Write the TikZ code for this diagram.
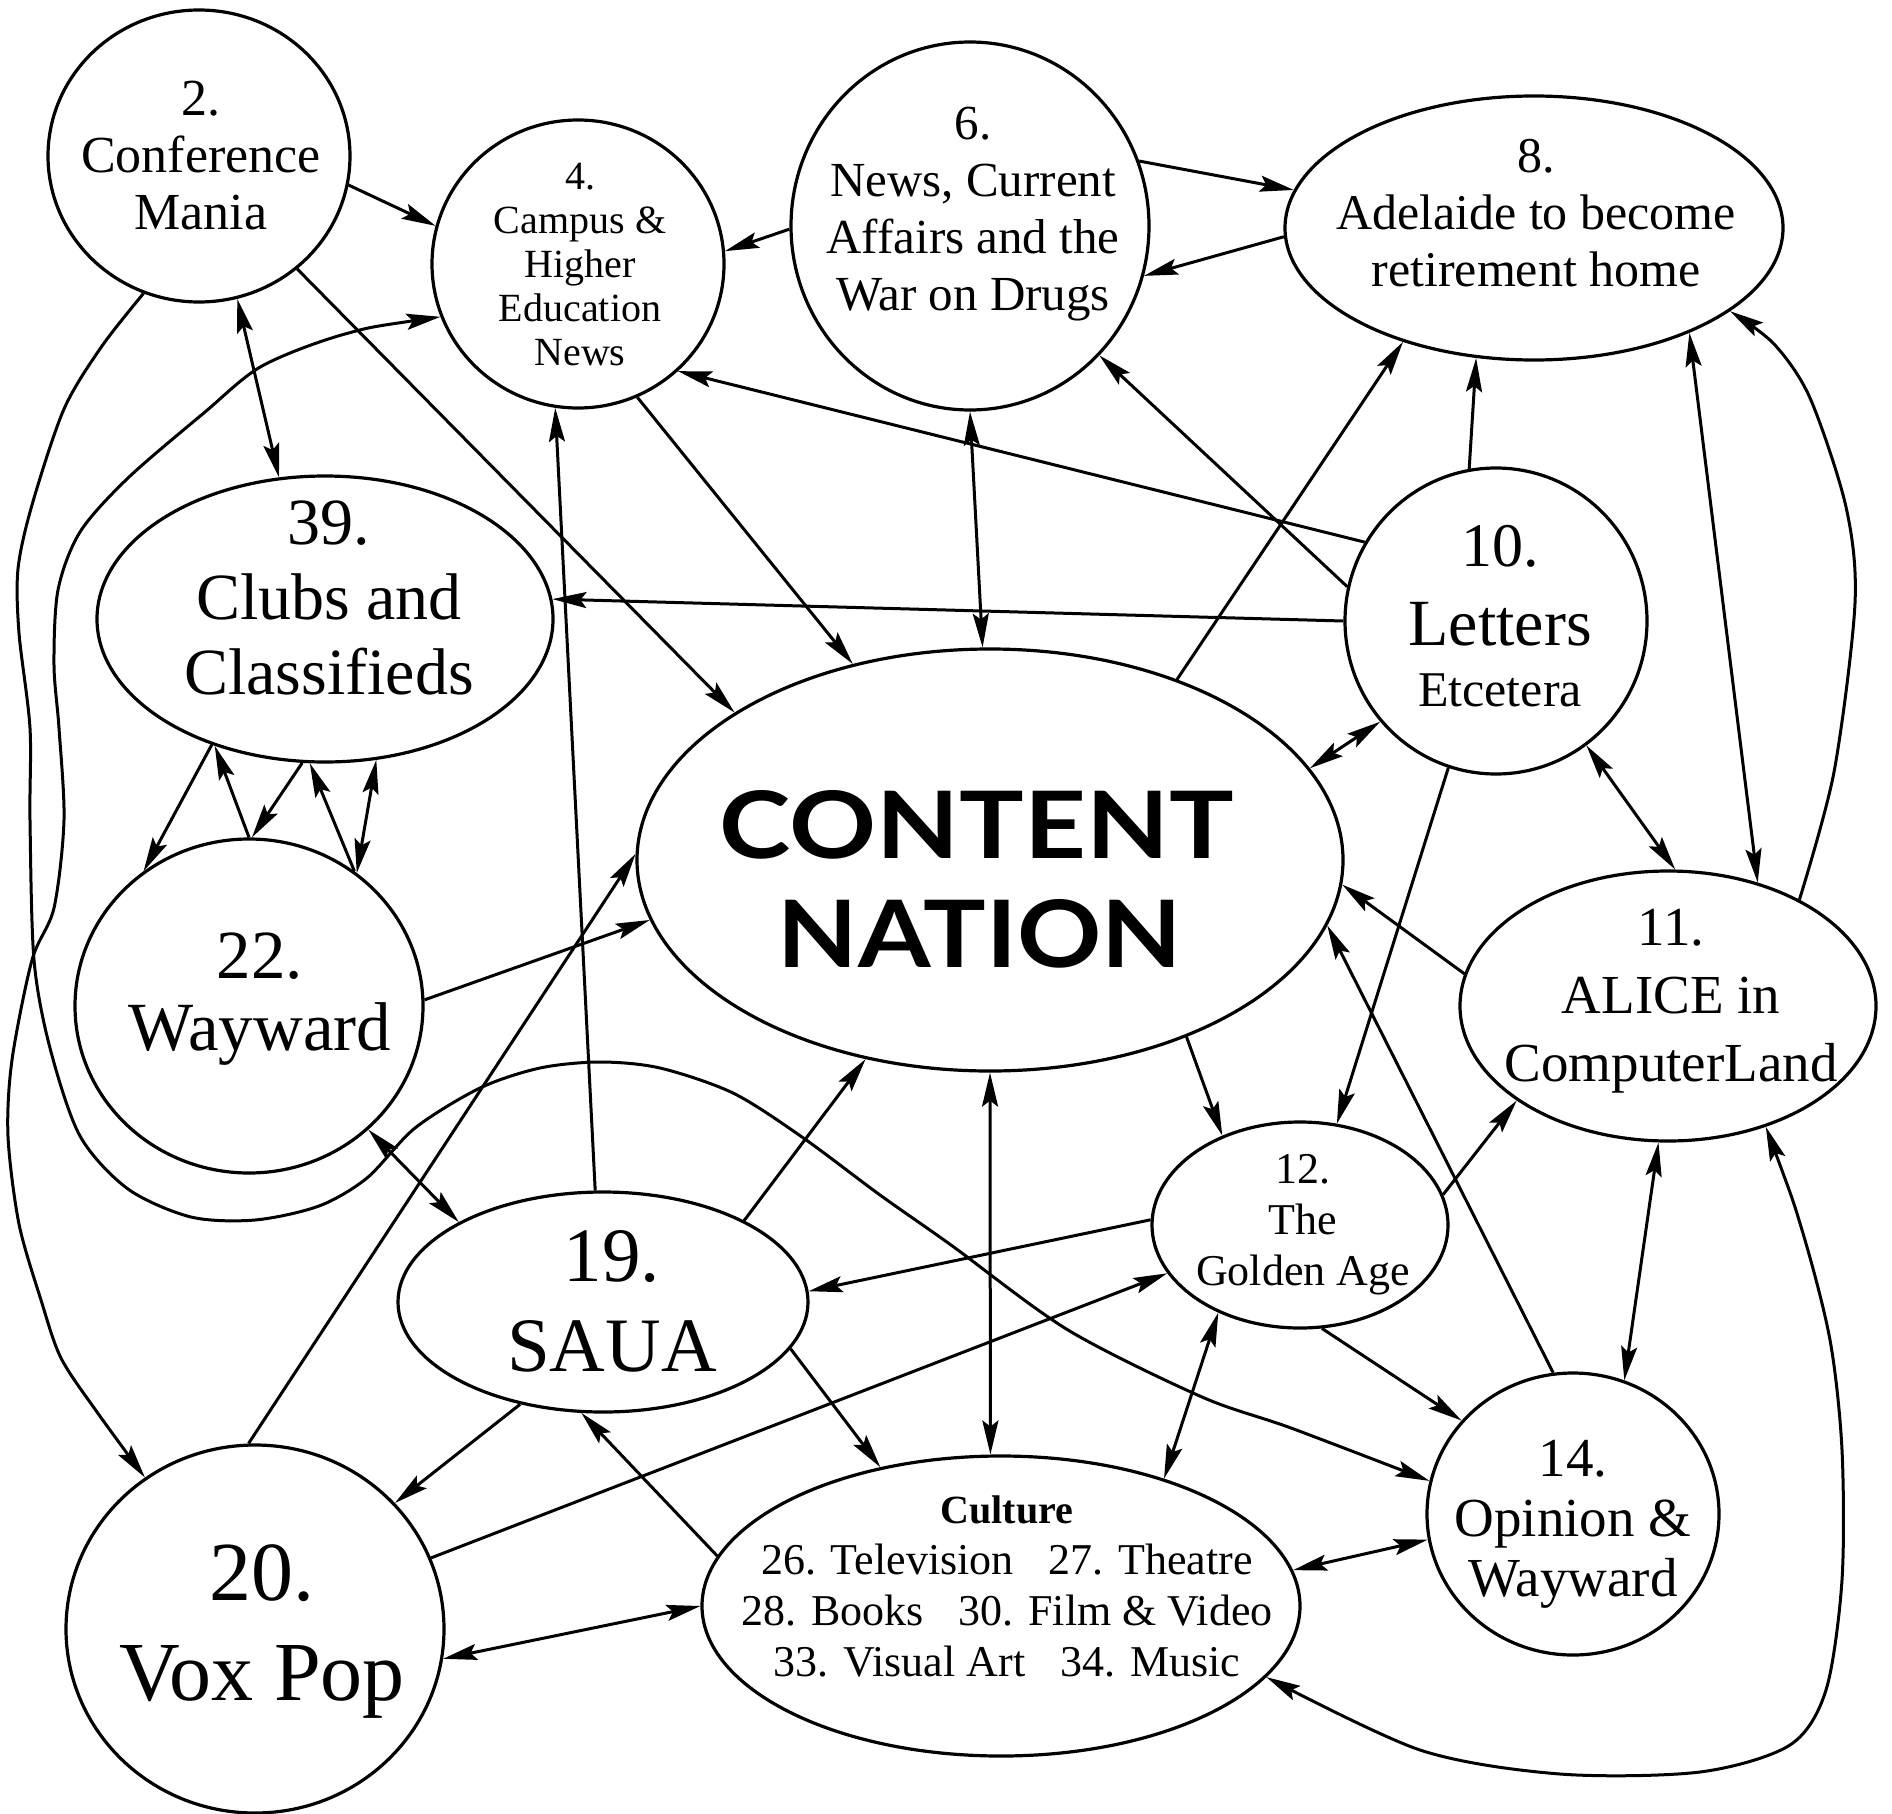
\documentclass[tikz,border=0pt]{standalone}
\usepackage{fontspec}
\usepackage{graphicx}
\setmainfont{Liberation Serif}
\newfontfamily\cnfont{Lato}
\usetikzlibrary{shapes.geometric,arrows.meta}
\newcommand{\myfs}[2]{\fontsize{#1pt}{#2pt}\selectfont}
\begin{document}
\begin{tikzpicture}[x=1pt,y=-1pt,
  ell/.style={draw, ellipse, line width=3.2pt, inner sep=0pt},
  lbl/.style={align=center, inner sep=0pt},
  conn/.style={line width=3pt},
  fwd/.style={conn, -{Stealth[length=34pt,width=16pt,inset=6pt]}},
  both/.style={conn, {Stealth[length=34pt,width=16pt,inset=6pt]}-{Stealth[length=34pt,width=16pt,inset=6pt]}}]
\fill[white] (0,0) rectangle (1892,1814);
\useasboundingbox (0,0) rectangle (1892,1814);

% ellipses
\node[ell, minimum width=302pt, minimum height=292pt] (n2) at (199,156) {};
\node[ell, minimum width=292pt, minimum height=288pt] (n4) at (578,264) {};
\node[ell, minimum width=358pt, minimum height=368pt] (n6) at (970,226) {};
\node[ell, minimum width=498pt, minimum height=264pt] (n8) at (1534,228) {};
\node[ell, minimum width=456pt, minimum height=286pt] (n39) at (325,619) {};
\node[ell, minimum width=302pt, minimum height=306pt] (n10) at (1496,621) {};
\node[ell, minimum width=706pt, minimum height=422pt] (cn) at (990,860) {};
\node[ell, minimum width=348pt, minimum height=334pt] (n22) at (249,1006) {};
\node[ell, minimum width=416pt, minimum height=270pt] (n11) at (1668,1006) {};
\node[ell, minimum width=296pt, minimum height=206pt] (n12) at (1300,1225) {};
\node[ell, minimum width=410pt, minimum height=220pt] (n19) at (603,1302) {};
\node[ell, minimum width=378pt, minimum height=368pt] (n20) at (255,1629) {};
\node[ell, minimum width=598pt, minimum height=300pt] (cul) at (1001,1606) {};
\node[ell, minimum width=292pt, minimum height=282pt] (n14) at (1573,1514) {};

% texts
\node[lbl, font=\myfs{52}{57}] (t2) at (201,156) {2.\\Conference\\Mania};
\node[lbl, font=\myfs{40}{44}] (t4) at (580,265) {4.\\Campus \&\\Higher\\Education\\News};
\node[lbl, font=\myfs{49}{57}] (t6) at (973,214) {6.\\News, Current\\Affairs and the\\War on Drugs};
\node[lbl, font=\myfs{50}{57}] (t8) at (1536,213) {8.\\Adelaide to become\\retirement home};
\node[lbl, font=\myfs{66}{75}] (t39) at (329,598) {39.\\Clubs and\\Classifieds};
\node[lbl, anchor=base, font=\myfs{62}{70}] (t10a) at (1500,566) {10.};
\node[lbl, anchor=base, font=\myfs{66}{70}] (t10b) at (1500,645) {Letters};
\node[lbl, anchor=base, font=\myfs{50}{56}] (t10c) at (1500,706) {Etcetera};
\node[lbl, anchor=base] (tcna) at (977,858) {\resizebox{514pt}{68pt}{\cnfont\bfseries CONTENT}};
\node[lbl, anchor=base] (tcnb) at (980,967) {\resizebox{404pt}{68pt}{\cnfont\bfseries NATION}};
\node[lbl, font=\myfs{69}{72}] (t22) at (260,999) {22.\\Wayward};
\node[lbl, font=\myfs{55}{68}] (t11) at (1671,1001) {11.\\ALICE in\\ComputerLand};
\node[lbl, font=\myfs{44}{51}] (t12) at (1303,1225) {12.\\The\\Golden Age};
\node[lbl, font=\myfs{77}{90}] (t19) at (612,1301) {19.\\SAUA};
\node[lbl, font=\myfs{84}{100}] (t20) at (262,1631) {20.\\Vox Pop};
\node[lbl, font=\myfs{44}{51}] (tcul) at (1007,1586) {{\bfseries\myfs{40}{51}Culture}\\26. Television\hspace{0.8em}27. Theatre\\28. Books\hspace{0.8em}30. Film \& Video\\33. Visual Art\hspace{0.8em}34. Music};
\node[lbl, font=\myfs{55}{60}] (t14) at (1573,1524) {14.\\Opinion \&\\Wayward};

% straight connectors
\draw[fwd] (n2.-11.9) -- (n4.165.2);
\draw[both] (n2.-75.2) -- (n39.108.4);
\draw[fwd] (n2.-49.2) -- (cn.150.9);
\draw[fwd] (n6.181.7) -- (n4.5.7);
\draw[fwd] (n6.21.5) -- (n8.171.5);
\draw[fwd] (n8.182.2) -- (n6.-16.5);
\draw[fwd] (n4.-66.2) -- (cn.125.6);
\draw[both] (n6.-90.2) -- (cn.92.8);
\draw[fwd] (n10.149.4) -- (n4.-47.3);
\draw[fwd] (n10.167.8) -- (n6.-45.8);
\draw[fwd] (cn.44.7) -- (n8.-139.8);
\draw[fwd] (n10.100.3) -- (n8.-114.4);
\draw[both] (n11.54.5) -- (n8.-34.8);
\draw[fwd] (n10.180) -- (n39.5);
\draw[both] (cn.16.3) -- (n10.-139.8);
\draw[fwd] (n10.-108.6) -- (n12.70.5);
\draw[both] (n10.-54) -- (n11.87.2);
\draw[fwd] (n11.171.3) -- (cn.-4.7);
\draw[fwd] (n14.98.2) -- (cn.-11.8);
\draw[fwd] (cn.-42.7) -- (n12.131.6);
\draw[fwd] (n12.12.9) -- (n11.-148.8);
\draw[both] (n11.-94.8) -- (n14.69.5);
\draw[fwd] (n12.-78.4) -- (n14.140.2);
\draw[fwd] (n12.178.6) -- (n19.3.7);
\draw[fwd] (n20.22) -- (n12.-160.9);
\draw[both] (n12.-133.2) -- (cul.38.9);
\draw[both] (cn.-90) -- (cul.94.4);
\draw[both] (cul.7.9) -- (n14.-170.8);
\draw[fwd] (n19.30.5) -- (cn.-122.5);
\draw[fwd] (n19.94.4) -- (n4.-99.1);
\draw[fwd] (n22.2.2) -- (cn.190);
\draw[fwd] (n20.92.5) -- (cn.179.4);
\draw[both] (n22.-46.5) -- (n19.151.2);
\draw[fwd] (n19.-129.7) -- (n20.42.5);
\draw[fwd] (n19.-14.1) -- (cul.131.6);
\draw[fwd] (cul.170.5) -- (n19.-101.8);
\draw[both] (n20.-9.8) -- (cul.180);
% between 39 and 22
\draw[fwd] (n39.-132.6) -- (n22.128.3);
\draw[fwd] (n22.90) -- (n39.-131.5);
\draw[fwd] (n39.-99.4) -- (n22.89.6);
\draw[fwd] (n22.52.4) -- (n39.-96.6);
\draw[both] (n39.-70.9) -- (n22.51.4);

% curved connectors
\draw[fwd] plot[smooth] coordinates {(n11.39.5) (1834,772) (1855,603) (1846,507) (1810,398) (1774,344) (n8.-23.3)};
\draw[both] plot[smooth] coordinates {(n11.-51.4) (1802,1230) (1830,1340) (1842,1450) (1842,1580) (1826,1690) (1790,1745) (1700,1772) (1560,1774) (1420,1750) (cul.-15.9)};
\draw[fwd] plot[smooth] coordinates {(n2.-112.9) (102,346) (64,409) (32,505) (18,569) (19,633) (30,728) (30,820) (34,960) (50,1048) (80,1136) (128,1189) (191,1217) (255,1220) (319,1206) (367,1178) (415,1128) (480,1088) (540,1068) (600,1062) (660,1068) (733,1093) (802,1137) (880,1195) (951,1245) (1068,1330) (1202,1397) (1291,1428) (n14.167)};
\draw[both] plot[smooth] coordinates {(n4.-159) (345,334) (262,366) (205,412) (128,478) (80,532) (58,590) (54,665) (59,728) (64,820) (54,908) (32,960) (12,1060) (8,1136) (19,1224) (41,1300) (61,1358) (97,1412) (n20.126.6)};
\end{tikzpicture}
\end{document}
